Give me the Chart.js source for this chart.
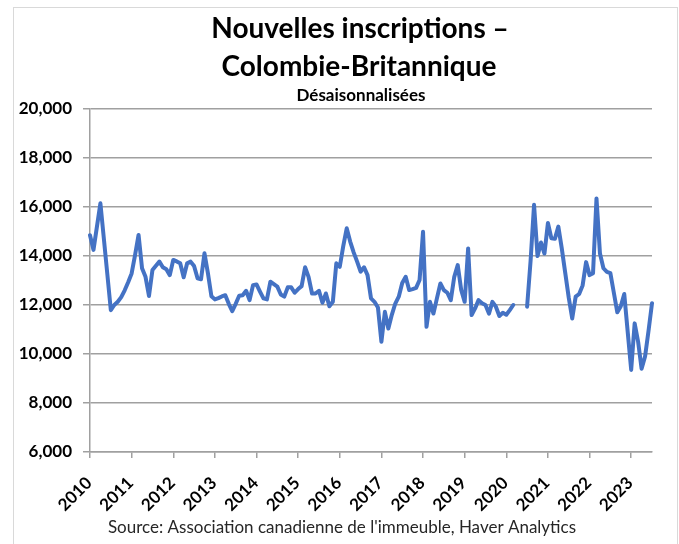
<!DOCTYPE html>
<html>
<head>
<meta charset="utf-8">
<script src="https://cdn.jsdelivr.net/npm/chart.js@4.4.0/dist/chart.umd.min.js"></script>
<style>
  html, body { margin: 0; padding: 0; background: #fff; }
  #wrap { position: relative; width: 679px; height: 544px; }
  #frame { position: absolute; left: 13px; top: 7px; width: 663px; height: 560px; border: 1px solid #d9d9d9; pointer-events: none; }
</style>
</head>
<body>
<div id="wrap">
  <canvas id="listingsChart" width="679" height="544"></canvas>
  <div id="frame"></div>
</div>
<script>
const titleLines = ["Nouvelles inscriptions –", "Colombie-Britannique"]
const subtitleText = "Désaisonnalisées"
const sourceText = "Source: Association canadienne de l'immeuble, Haver Analytics"

const years = [2010, 2011, 2012, 2013, 2014, 2015, 2016, 2017, 2018, 2019, 2020, 2021, 2022, 2023]
const months = ["01", "02", "03", "04", "05", "06", "07", "08", "09", "10", "11", "12"]
const yTicks = [6000, 8000, 10000, 12000, 14000, 16000, 18000, 20000]

// monthly new listings, seasonally adjusted (Jan 2010 - Jul 2023)
const listings = [
  14850, 14250, 15200, 16150, 14700, 13250, 11790, 12000, 12130, 12320, 12600, 12930, // 2010
  13290, 14050, 14860, 13500, 13150, 12370, 13430, 13600, 13770, 13540, 13460, 13220, // 2011
  13840, 13780, 13700, 13130, 13700, 13770, 13590, 13090, 13050, 14110, 13290, 12360, // 2012
  12230, 12280, 12350, 12400, 12050, 11750, 12050, 12380, 12400, 12580, 12200, 12810, // 2013
  12840, 12550, 12270, 12230, 12950, 12850, 12750, 12430, 12340, 12720, 12720, 12500, // 2014
  12650, 12770, 13540, 13150, 12470, 12470, 12580, 12090, 12470, 11950, 12130, 13700, // 2015
  13560, 14400, 15130, 14590, 14150, 13770, 13360, 13540, 13220, 12270, 12130, 11900, // 2016
  10500, 11720, 11040, 11600, 12060, 12340, 12900, 13150, 12610, 12650, 12700, 13020, // 2017
  14990, 11110, 12130, 11650, 12270, 12880, 12610, 12500, 12200, 13150, 13630, 12610, // 2018
  12130, 14310, 11590, 11860, 12200, 12070, 12000, 11650, 12130, 11930, 11550, 11680, // 2019
  11600, 11790, 12000, null, null, null, 11930, 13800, 16090, 14000, 14550, 14100,     // 2020
  15350, 14720, 14700, 15200, 14300, 13300, 12300, 11450, 12340, 12450, 12800, 13750, // 2021
  13220, 13300, 16350, 14100, 13500, 13350, 13300, 12500, 11700, 11950, 12450, 10900, // 2022
  9350, 11250, 10500, 9400, 9900, 10950, 12070,                                        // 2023
]

const labels = listings.map((_, i) => `${years[Math.floor(i / 12)]}-${months[i % 12]}`)

// title, subtitle and source note
const chartText = {
  id: "chartText",
  afterDraw(chart) {
    const c = chart.ctx
    c.save()
    c.textAlign = "center"
    c.fillStyle = "#000"
    c.font = "bold 28px Lato"
    c.fillText(titleLines[0], 360, 38)
    c.fillText(titleLines[1], 359, 76)
    c.font = "bold 17px Lato"
    c.fillText(subtitleText, 361, 101)
    c.font = "17px Lato"
    c.fillStyle = "#262626"
    c.fillText(sourceText, 342, 533)
    c.restore()
  },
}

const ctx = document.getElementById("listingsChart").getContext("2d")

new Chart(ctx, {
  type: "line",
  data: {
    labels: labels,
    datasets: [
      {
        label: "Nouvelles inscriptions",
        data: listings,
        borderColor: "#4472c4",
        borderWidth: 4,
        borderJoinStyle: "round",
        borderCapStyle: "round",
        pointRadius: 0,
        tension: 0,
        spanGaps: false,
      },
    ],
  },
  options: {
    responsive: false,
    animation: false,
    layout: {
      padding: { top: 109, left: 0, right: 27, bottom: 0 },
    },
    scales: {
      x: {
        offset: false,
        afterFit: (scale) => {
          scale.height = 92
          // keep the rotated labels from squeezing the plot width
          scale.paddingLeft = 0
          scale.paddingRight = 0
        },
        grid: {
          drawOnChartArea: false,
          drawTicks: true,
          tickLength: 6,
          lineWidth: 1.5,
          color: (c) => (c.index % 12 === 0 ? "#a0a0a0" : "rgba(0,0,0,0)"),
        },
        border: { color: "#a0a0a0", width: 1.5 },
        ticks: {
          autoSkip: false,
          maxRotation: 45,
          minRotation: 45,
          padding: 15,
          labelOffset: -1,
          color: "#000",
          font: { family: "Lato", size: 17, weight: "bold" },
          callback: (val, i) => (i % 12 === 0 ? String(years[i / 12]) : ""),
        },
      },
      y: {
        min: yTicks[0],
        max: yTicks[yTicks.length - 1],
        afterFit: (scale) => {
          scale.width = 90
        },
        afterBuildTicks: (scale) => {
          scale.ticks = yTicks.map((v) => ({ value: v }))
        },
        grid: {
          color: "#a0a0a0",
          lineWidth: 1.5,
          tickLength: 7,
        },
        border: { color: "#a0a0a0", width: 1.5 },
        ticks: {
          padding: 11,
          color: "#000",
          font: { family: "Lato", size: 17, weight: "bold" },
          callback: (v) => v.toLocaleString("en-US"),
        },
      },
    },
    plugins: {
      legend: { display: false },
      tooltip: { enabled: false },
    },
  },
  plugins: [chartText],
})
</script>
</body>
</html>
